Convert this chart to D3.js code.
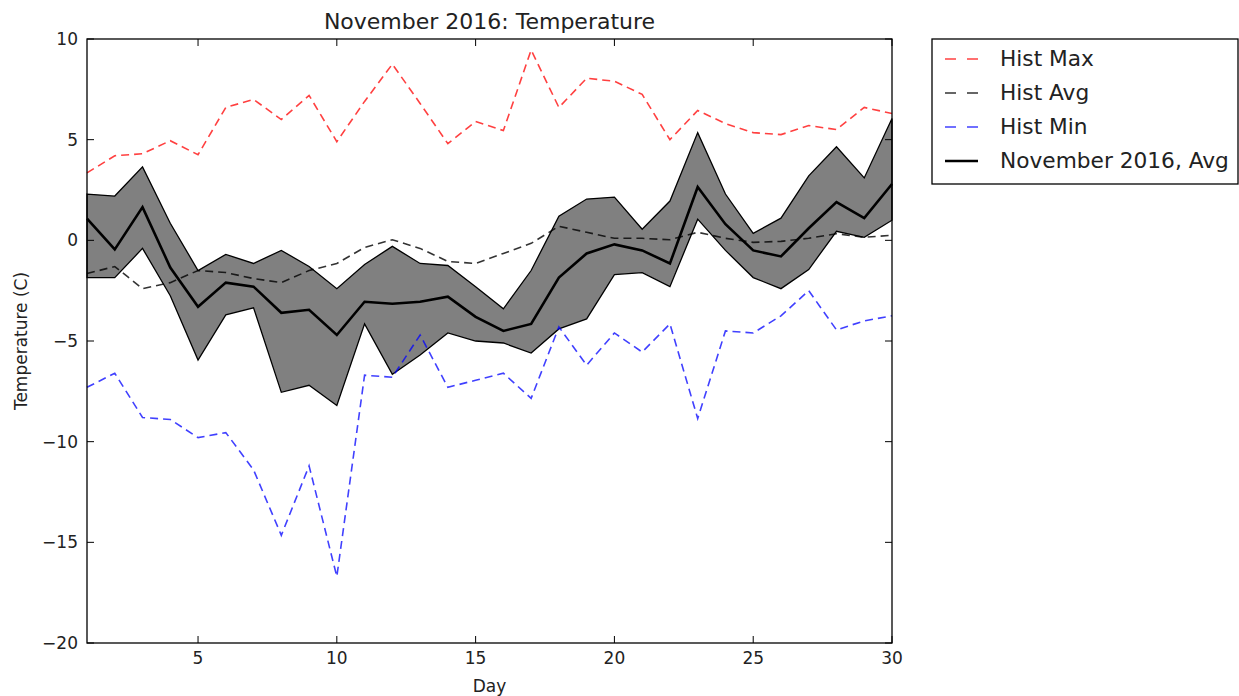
<!DOCTYPE html>
<html>
<head>
<meta charset="utf-8">
<script src="https://cdn.jsdelivr.net/npm/d3@7"></script>
<style>
  body { margin: 0; background: #fff; }
  svg text { font-family: "DejaVu Sans", sans-serif; fill: #222; }
</style>
</head>
<body>
<div class="content"></div>
<script>
// дни месяца
var days = d3.range(1, 31);

// исторические значения
var histMax = [3.35, 4.2, 4.3, 4.95, 4.25, 6.6, 7.0, 6.0, 7.2, 4.9,
               6.9, 8.75, 6.8, 4.8, 5.9, 5.45, 9.45, 6.6, 8.05, 7.9,
               7.25, 5.0, 6.45, 5.8, 5.35, 5.25, 5.7, 5.5, 6.6, 6.3];
var histAvg = [-1.65, -1.3, -2.4, -2.1, -1.5, -1.6, -1.9, -2.1, -1.5, -1.15,
               -0.35, 0.03, -0.4, -1.05, -1.15, -0.65, -0.15, 0.7, 0.4, 0.1,
               0.1, 0.03, 0.4, 0.1, -0.1, -0.05, 0.1, 0.33, 0.15, 0.25];
var histMin = [-7.3, -6.6, -8.8, -8.9, -9.8, -9.55, -11.4, -14.65, -11.2, -16.7,
               -6.7, -6.8, -4.7, -7.3, -6.95, -6.6, -7.85, -4.3, -6.2, -4.6,
               -5.55, -4.15, -8.85, -4.5, -4.6, -3.75, -2.5, -4.45, -4.0, -3.75];

// ноябрь 2016
var novAvg = [1.08, -0.45, 1.65, -1.35, -3.3, -2.1, -2.3, -3.6, -3.45, -4.7,
              -3.05, -3.15, -3.05, -2.8, -3.8, -4.5, -4.15, -1.85, -0.65, -0.2,
              -0.5, -1.15, 2.65, 0.8, -0.5, -0.8, 0.6, 1.9, 1.1, 2.8];
var novMax = [2.3, 2.2, 3.65, 0.85, -1.5, -0.7, -1.15, -0.5, -1.3, -2.4,
              -1.2, -0.3, -1.15, -1.25, -2.3, -3.4, -1.5, 1.2, 2.05, 2.15,
              0.55, 1.95, 5.35, 2.3, 0.35, 1.1, 3.2, 4.65, 3.1, 6.05];
var novMin = [-1.85, -1.85, -0.4, -2.75, -5.95, -3.7, -3.35, -7.55, -7.2, -8.2,
              -4.15, -6.65, -5.7, -4.6, -5.0, -5.1, -5.6, -4.4, -3.9, -1.7,
              -1.6, -2.3, 1.05, -0.5, -1.85, -2.4, -1.45, 0.45, 0.15, 1.0];

var xTicks = [5, 10, 15, 20, 25, 30];
var yTicks = [-20, -15, -10, -5, 0, 5, 10];

var legendItems = [
    { name: 'Hist Max', color: '#ff0000', dash: true, opacity: 0.75 },
    { name: 'Hist Avg', color: '#000000', dash: true, opacity: 0.8 },
    { name: 'Hist Min', color: '#0000ff', dash: true, opacity: 0.75 },
    { name: 'November 2016, Avg', color: '#000000', dash: false, opacity: 1 }
];

// размеры картинки и поля графика
var w = 1239,
    h = 696;
var plotL = 87, plotR = 892, plotT = 39, plotB = 643;

var svg = d3.select('.content').append('svg')
    .attr('width', w)
    .attr('height', h);

var x = d3.scaleLinear().domain([1, 30]).range([plotL, plotR]);
var y = d3.scaleLinear().domain([-20, 10]).range([plotB, plotT]);

// полоса min–max ноября
var area = d3.area()
    .x(function(d) { return x(d); })
    .y0(function(d, i) { return y(novMin[i]); })
    .y1(function(d, i) { return y(novMax[i]); });

svg.append('path')
    .datum(days)
    .attr('d', area)
    .attr('fill', '#808080')
    .attr('stroke', '#000')
    .attr('stroke-width', 1.3);

function line(values) {
    return d3.line()
        .x(function(d, i) { return x(days[i]); })
        .y(function(d) { return y(d); })(values);
}

var series = [histMax, histAvg, histMin, novAvg];
series.forEach(function(vals, i) {
    var it = legendItems[i];
    svg.append('path')
        .attr('d', line(vals))
        .attr('fill', 'none')
        .attr('stroke', it.color)
        .attr('stroke-opacity', it.opacity)
        .attr('stroke-width', it.dash ? 1.6 : 2.6)
        .attr('stroke-dasharray', it.dash ? '8,5' : null);
});

// рамка
svg.append('rect')
    .attr('x', plotL).attr('y', plotT)
    .attr('width', plotR - plotL).attr('height', plotB - plotT)
    .attr('fill', 'none')
    .attr('stroke', '#000')
    .attr('stroke-width', 1.3);

// оси: тики внутрь, со всех сторон
var tickLen = 7;
var ax = svg.append('g');
xTicks.forEach(function(t) {
    ax.append('line').attr('x1', x(t)).attr('x2', x(t))
        .attr('y1', plotB).attr('y2', plotB - tickLen).attr('stroke', '#000');
    ax.append('line').attr('x1', x(t)).attr('x2', x(t))
        .attr('y1', plotT).attr('y2', plotT + tickLen).attr('stroke', '#000');
    ax.append('text').attr('x', x(t)).attr('y', plotB + 21)
        .attr('text-anchor', 'middle').attr('font-size', 17)
        .text(t);
});
yTicks.forEach(function(t) {
    ax.append('line').attr('x1', plotL).attr('x2', plotL + tickLen)
        .attr('y1', y(t)).attr('y2', y(t)).attr('stroke', '#000');
    ax.append('line').attr('x1', plotR).attr('x2', plotR - tickLen)
        .attr('y1', y(t)).attr('y2', y(t)).attr('stroke', '#000');
    ax.append('text').attr('x', plotL - 9).attr('y', y(t) + 6)
        .attr('text-anchor', 'end').attr('font-size', 17)
        .text(t < 0 ? '\u2212' + Math.abs(t) : t);
});

// подписи
svg.append('text')
    .attr('x', (plotL + plotR) / 2).attr('y', 29)
    .attr('text-anchor', 'middle').attr('font-size', 22)
    .text('November 2016: Temperature');
svg.append('text')
    .attr('x', (plotL + plotR) / 2).attr('y', 692)
    .attr('text-anchor', 'middle').attr('font-size', 17)
    .text('Day');
svg.append('text')
    .attr('transform', 'translate(27,' + ((plotT + plotB) / 2) + ') rotate(-90)')
    .attr('text-anchor', 'middle').attr('font-size', 17)
    .text('Temperature (C)');

// легенда
var lg = svg.append('g');
lg.append('rect')
    .attr('x', 932).attr('y', 39)
    .attr('width', 306).attr('height', 145)
    .attr('fill', '#fff').attr('stroke', '#000').attr('stroke-width', 1.3);
legendItems.forEach(function(it, i) {
    var cy = 59 + i * 34;
    lg.append('line')
        .attr('x1', 945).attr('x2', 978)
        .attr('y1', cy).attr('y2', cy)
        .attr('stroke', it.color)
        .attr('stroke-opacity', it.opacity)
        .attr('stroke-width', it.dash ? 1.6 : 2.6)
        .attr('stroke-dasharray', it.dash ? '11,11' : null);
    lg.append('text')
        .attr('x', 1000).attr('y', cy + 7)
        .attr('font-size', 21.7)
        .text(it.name);
});
</script>
</body>
</html>
